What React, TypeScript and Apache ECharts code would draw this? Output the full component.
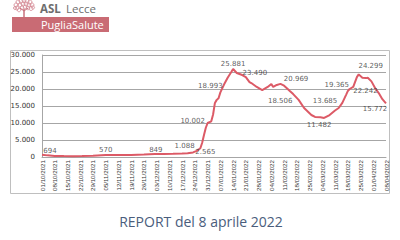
import React, { useEffect, useRef } from "react";
import * as echarts from "echarts";

// ---- data (day index from 01/10/2021, daily positive cases) ----
const startDate = Date.UTC(2021, 9, 1);
const days = [
  0, 3, 7, 12, 17, 22, 28, 35, 42, 49, 56, 62, 67, 72, 77, 80, 83, 85, 87, 88, 89, 90, 91, 93, 94, 95, 96, 97, 98,
  100, 102, 104, 105, 107, 110, 112, 114, 115, 118, 121, 124, 126, 127, 129, 131, 133, 135, 136, 138, 141, 144,
  148, 150, 153, 155, 158, 161, 163, 165, 167, 168, 169, 171, 173, 174, 176, 178, 179, 181, 183, 185, 187, 189,
];
const cases = [
  694, 480, 330, 260, 240, 280, 380, 570, 560, 620, 720, 849, 860, 920, 1000, 1088, 1350, 1800, 2565, 4200, 6500,
  8600, 10002, 10500, 12500, 15900, 16800, 17300, 18993, 21300, 23300, 25000, 25881, 24700, 24100, 23490, 22050,
  21750, 20600, 19700, 20600, 21500, 20600, 21200, 21500, 20969, 20000, 19500, 18506, 16800, 14400, 12350, 11800,
  11700, 11482, 12350, 13685, 14400, 15900, 18200, 19365, 20000, 20600, 23500, 24299, 23300, 23200, 23300, 22242,
  20300, 18800, 17000, 15772,
];
const labelDays = [0, 35, 62, 80, 87, 91, 98, 105, 112, 133, 138, 155, 161, 168, 174, 181, 189];
const labelValues = [694, 570, 849, 1088, 2565, 10002, 18993, 25881, 23490, 20969, 18506, 11482, 13685, 19365, 24299, 22242, 15772];
const yMax = 30000;
const yStep = 5000;
const xStep = 7;
const xMax = 189;
const headerTop = "Lecce";
const headerBrand = "ASL";
const bannerText = "PugliaSalute";
const title = "REPORT del 8 aprile 2022";

// label placement (pixel offsets from point)
const labelOffsets: [number, number][] = [
  [8, -4], [0, -5], [1, -4], [-3, -7], [5, 4], [-15, -2], [-10, -6], [0, -5], [9, -4],
  [12, -7], [-13, 7], [-5, 7], [-10, -9], [-11, -6], [12, -8], [-6, 10], [-11, 6],
];

function fmtNum(v: number): string {
  return String(Math.round(v)).replace(/\B(?=(\d{3})+(?!\d))/g, ".");
}
function fmtDate(d: number): string {
  const dt = new Date(startDate + d * 86400000);
  const dd = String(dt.getUTCDate()).padStart(2, "0");
  const mm = String(dt.getUTCMonth() + 1).padStart(2, "0");
  return `${dd}/${mm}/${dt.getUTCFullYear()}`;
}

function treeElements(): any[] {
  const els: any[] = [];
  const cx = 24, cy = 7;
  const pts: [number, number, number][] = [
    [-8, -2, 2], [-6, -5, 2], [-3, -6, 2], [0, -6.5, 2], [3, -6, 2], [6, -5, 2], [8, -2, 2],
    [-7, 1, 2], [-4, -2, 2], [-1, -3, 2], [2, -3, 2], [5, -2, 2], [7, 1.5, 2],
    [-5, 3, 1.8], [-2, 0.5, 1.8], [1, 0, 1.8], [4, 1, 1.8], [-9, 1, 1.6], [9, 0.5, 1.6],
  ];
  for (const [dx, dy, r] of pts) {
    els.push({ type: "circle", shape: { cx: cx + dx, cy: cy + dy, r }, style: { fill: "none", stroke: "#d48a95", lineWidth: 0.8 } });
  }
  els.push({ type: "line", shape: { x1: cx, y1: cy + 2, x2: cx, y2: cy + 10 }, style: { stroke: "#c9707c", lineWidth: 1.5 } });
  els.push({ type: "line", shape: { x1: cx, y1: cy + 4, x2: cx - 4, y2: cy + 1 }, style: { stroke: "#c9707c", lineWidth: 1 } });
  els.push({ type: "line", shape: { x1: cx, y1: cy + 4, x2: cx + 4, y2: cy + 1 }, style: { stroke: "#c9707c", lineWidth: 1 } });
  return els;
}

export default function App() {
  const ref = useRef<HTMLDivElement>(null);
  useEffect(() => {
    if (!ref.current) return;
    const chart = echarts.init(ref.current, null, { renderer: "svg" });
    const labelFont = { fontFamily: "DejaVu Sans", fontSize: 7, color: "#333333" };
    chart.setOption({
      animation: false,
      backgroundColor: "#ffffff",
      grid: { left: 42, right: 14, top: 55, bottom: 83 },
      xAxis: {
        type: "value",
        min: 0,
        max: xMax,
        interval: xStep,
        axisLine: { show: true, lineStyle: { color: "#a6a6a6", width: 1 } },
        axisTick: { show: false },
        splitLine: { show: false },
        axisLabel: {
          rotate: 90,
          margin: 3,
          fontSize: 6.2,
          fontFamily: "Liberation Sans",
          color: "#333333",
          formatter: (v: number) => fmtDate(v),
          showMinLabel: true,
          showMaxLabel: true,
        },
      },
      yAxis: {
        type: "value",
        min: 0,
        max: yMax,
        interval: yStep,
        axisLine: { show: true, lineStyle: { color: "#a6a6a6", width: 1 } },
        axisTick: { show: false },
        splitLine: { show: true, lineStyle: { color: "#a6a6a6", width: 1 } },
        axisLabel: {
          margin: 7,
          fontSize: 7,
          fontFamily: "DejaVu Sans",
          color: "#333333",
          formatter: (v: number) => fmtNum(v),
        },
      },
      series: [
        {
          type: "line",
          data: days.map((d, i) => [d, cases[i]]),
          symbol: "none",
          lineStyle: { color: "#dc5a66", width: 2 },
          z: 3,
        },
        {
          type: "scatter",
          symbolSize: 1,
          itemStyle: { color: "rgba(0,0,0,0)" },
          data: labelDays.map((d, i) => ({
            value: [d, labelValues[i]],
            label: {
              show: true,
              position: "inside",
              offset: labelOffsets[i],
              formatter: () => fmtNum(labelValues[i]),
              ...labelFont,
            },
          })),
          z: 4,
        },
      ],
      graphic: [
        { type: "rect", shape: { x: 10.5, y: 50.5, width: 379, height: 143 }, style: { fill: "none", stroke: "#bfbfbf", lineWidth: 1 }, z: -1 },
        ...treeElements(),
        { type: "rect", shape: { x: 12, y: 17, width: 97, height: 15 }, style: { fill: "#c96b74" } },
        { type: "text", x: 41, y: 24.5, style: { text: bannerText, fill: "#ffffff", fontFamily: "Open Sans", fontSize: 11, verticalAlign: "middle" } },
        { type: "text", x: 40, y: 8.5, style: { text: headerBrand, fill: "#6e6e6e", fontFamily: "Open Sans", fontWeight: "bold", fontSize: 11.5, verticalAlign: "middle" } },
        { type: "text", x: 66, y: 8.5, style: { text: headerTop, fill: "#6e6e6e", fontFamily: "Open Sans", fontSize: 11.5, verticalAlign: "middle" } },
        { type: "text", x: 201, y: 221, style: { text: title, fill: "#4a5d7c", fontFamily: "Open Sans", fontSize: 14, align: "center", verticalAlign: "middle" } },
      ],
    });
    return () => chart.dispose();
  }, []);
  return <div ref={ref} style={{ position: "fixed", left: 0, top: 0, width: 400, height: 240 }} />;
}
